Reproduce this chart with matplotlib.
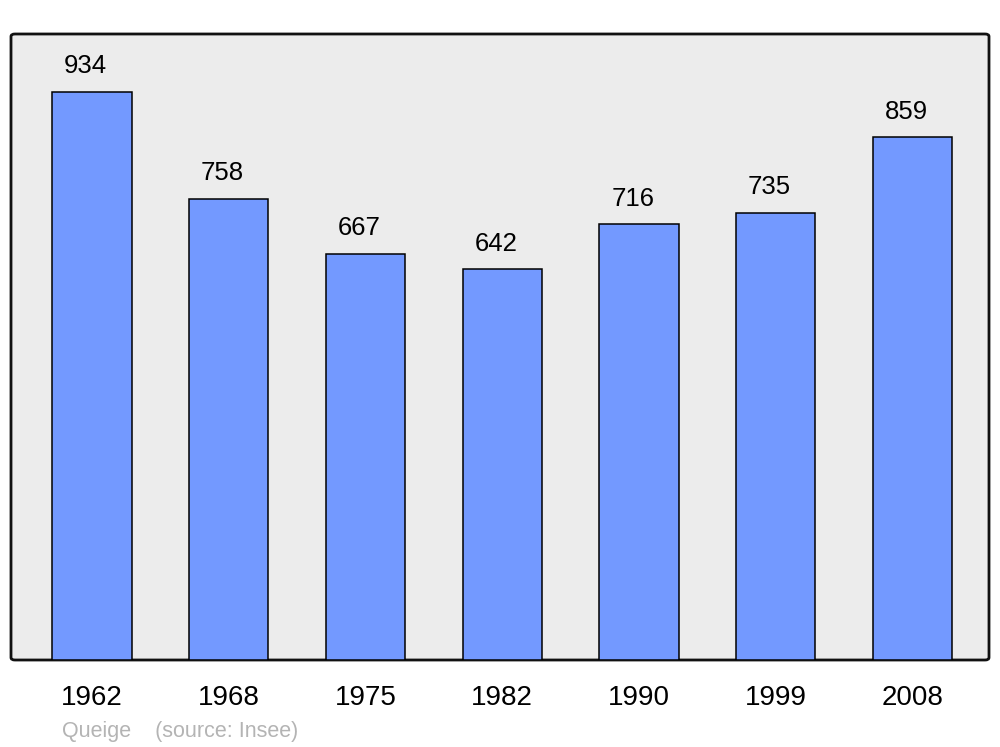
import matplotlib
matplotlib.use("Agg")
import matplotlib.pyplot as plt
from matplotlib.patches import FancyBboxPatch

plt.rcParams["font.family"] = ["Liberation Sans", "DejaVu Sans"]

years = ["1962", "1968", "1975", "1982", "1990", "1999", "2008"]
population = [934, 758, 667, 642, 716, 735, 859]
commune = "Queige"
source = "(source: Insee)"

fig = plt.figure(figsize=(10, 7.47), dpi=100)
ax = fig.add_axes([0.011, 1 - 660 / 747, 0.978, 626 / 747])
ax.set_facecolor("none")

# rounded frame with grey fill
frame = FancyBboxPatch((0, 0), 1, 1, boxstyle="round,pad=0,rounding_size=0.004",
                       transform=ax.transAxes, facecolor="#ececec",
                       edgecolor="#111111", linewidth=2, zorder=0, clip_on=False)
ax.add_patch(frame)

x = range(len(years))
bars = ax.bar(x, population, width=0.58, color="#7399ff",
              edgecolor="black", linewidth=1.1, zorder=2)
for b, v in zip(bars, population):
    ax.annotate(str(v), (b.get_x() + b.get_width() / 2, v),
                xytext=(-4.5, 10), textcoords="offset points",
                ha="center", va="bottom", fontsize=18.5)

ax.set_xlim(-0.592, 6.559)
ax.set_ylim(0, 1029)
ax.set_xticks(list(x))
ax.set_xticklabels(years, fontsize=20)
ax.tick_params(axis="x", length=0, pad=18)
ax.set_yticks([])
for s in ax.spines.values():
    s.set_visible(False)

fig.text(0.062, 1 - 731 / 747, commune + "    " + source, fontsize=15.5,
         color="#b4b4b4", ha="left", va="center")

fig.savefig("out.png", dpi=100)
